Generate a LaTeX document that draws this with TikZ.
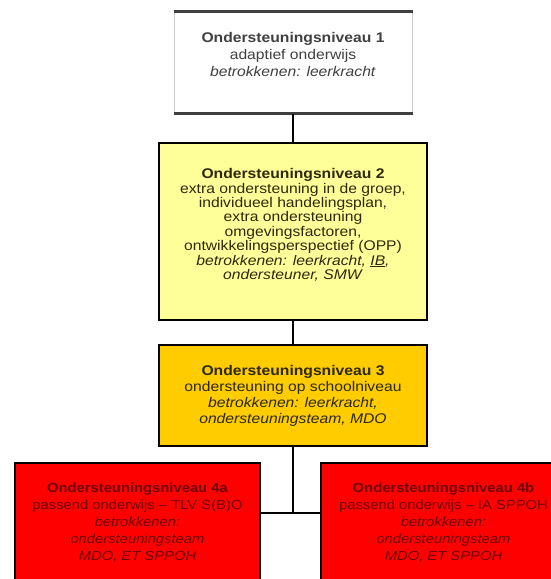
\documentclass[tikz,border=0pt]{standalone}
\usepackage{fontspec}
\setmainfont[FakeStretch=1.12]{Liberation Sans}
\usepackage{tikz}
\usepackage{xcolor}
\definecolor{ColYellow}{RGB}{255,255,153}
\definecolor{ColGold}{RGB}{255,204,0}
\definecolor{ColRed}{RGB}{255,0,0}
\definecolor{ColDark}{RGB}{45,40,10}
\definecolor{ColDarkRed}{RGB}{110,0,0}
\tikzstyle{LevelBox}=[rectangle,draw=black,line width=2.5pt,align=center,inner sep=0pt,
font=\fontsize{14}{17}\selectfont]
\tikzstyle{LevelOne}=[LevelBox,draw=black!20,line width=1pt,fill=white,text=black!75,
minimum width=238pt,minimum height=101pt,text depth=17pt]
\tikzstyle{LevelTwo}=[LevelBox,fill=ColYellow,text=ColDark,minimum width=268pt,minimum height=177pt,
font=\fontsize{14}{14.4}\selectfont,text depth=15pt]
\tikzstyle{LevelThree}=[LevelBox,fill=ColGold,text=ColDark,minimum width=268pt,minimum height=101pt,
font=\fontsize{14}{16}\selectfont]
\tikzstyle{LevelFour}=[LevelBox,fill=ColRed,text=ColDarkRed,minimum width=245pt,minimum height=119pt,
font=\fontsize{13.2}{17}\selectfont]
\tikzstyle{EdgeLevel}=[black,line width=2.5pt]

\begin{document}
\begin{tikzpicture}[x=1pt,y=-1pt]
        \useasboundingbox[fill=white](0,0)rectangle(550,579);
        \node[LevelOne](one)at(293,62.5){\textbf{Ondersteuningsniveau 1}\\adaptief onderwijs\\
            \textit{betrokkenen: leerkracht}};
        \node[LevelTwo](two)at(293,231.5){\textbf{Ondersteuningsniveau 2}\\
            extra ondersteuning in de groep,\\individueel handelingsplan,\\extra ondersteuning\\
            omgevingsfactoren,\\ontwikkelingsperspectief (OPP)\\
            \textit{betrokkenen: leerkracht, \underline{IB},}\\\textit{ondersteuner, SMW}};
        \node[LevelThree](three)at(293,395.5){\textbf{Ondersteuningsniveau 3}\\
            ondersteuning op schoolniveau\\\textit{betrokkenen: leerkracht,}\\
            \textit{ondersteuningsteam, MDO}};
        \node[LevelFour](foura)at(137.5,522.5){\textbf{Ondersteuningsniveau 4a}\\
            passend onderwijs -- TLV S(B)O\\\textit{betrokkenen:}\\
            \textit{ondersteuningsteam}\\\textit{MDO, ET SPPOH}};
        \node[LevelFour](fourb)at(443.5,522.5){\textbf{Ondersteuningsniveau 4b}\\
            passend onderwijs -- IA SPPOH\\\textit{betrokkenen:}\\
            \textit{ondersteuningsteam}\\\textit{MDO, ET SPPOH}};
        \coordinate(fork)at(293,513);
        \draw[EdgeLevel,black!75,line width=3pt](one.north west)--(one.north east);
        \draw[EdgeLevel,black!75,line width=3pt](one.south west)--(one.south east);
        \draw[EdgeLevel](one)--(two);
        \draw[EdgeLevel](two)--(three);
        \draw[EdgeLevel](three)--(fork);
        \draw[EdgeLevel](foura.east|-fork)--(fourb.west|-fork);
    \end{tikzpicture}
\end{document}
